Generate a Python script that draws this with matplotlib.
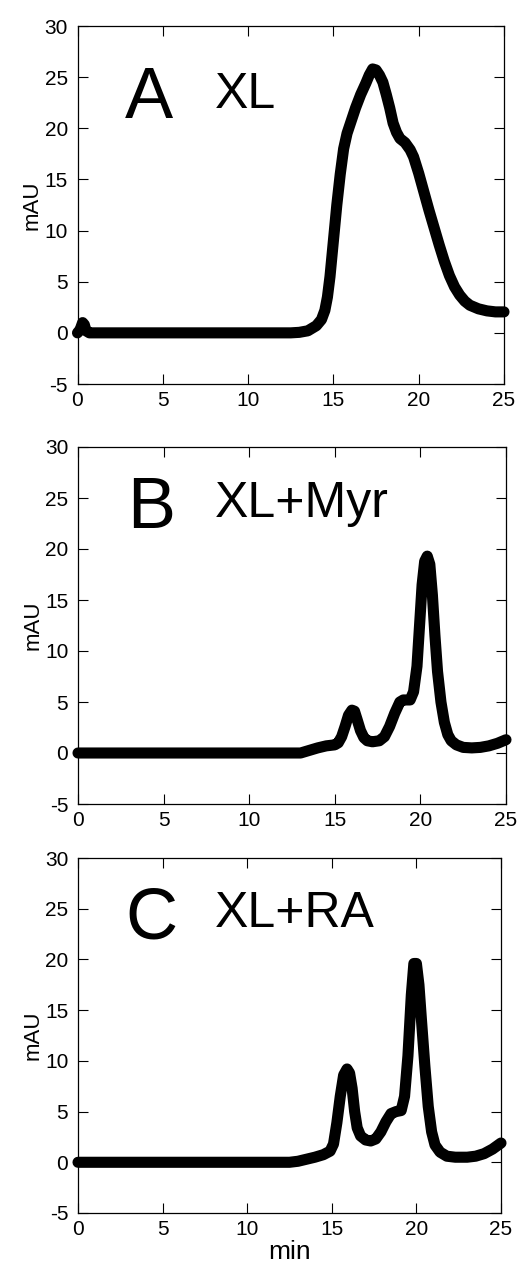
import matplotlib.pyplot as plt

plt.rcParams['font.family'] = ['Liberation Sans', 'DejaVu Sans']
plt.rcParams['axes.unicode_minus'] = False

# Panel A: XL
timeA = [0, 0.15, 0.3, 0.4, 0.5, 0.7, 2, 5, 10, 12.5, 13, 13.5, 14, 14.3, 14.5, 14.65,
         14.8, 15.0, 15.2, 15.4, 15.6, 15.8, 16.0, 16.3, 16.6, 16.9, 17.1, 17.3, 17.5,
         17.7, 17.9, 18.1, 18.3, 18.5, 18.7, 18.9, 19.2, 19.5, 19.7, 20.0, 20.3, 20.6,
         20.9, 21.2, 21.5, 21.8, 22.1, 22.4, 22.7, 23.0, 23.5, 24.0, 24.5, 25.0]
signalA = [0, 0.3, 1.0, 0.8, 0.2, 0, 0, 0, 0, 0, 0.05, 0.2, 0.7, 1.3, 2.2, 3.5,
           5.5, 9.0, 12.5, 15.5, 18.0, 19.5, 20.5, 22.0, 23.3, 24.4, 25.2, 25.8, 25.7,
           25.2, 24.5, 23.3, 22.0, 20.5, 19.6, 19.0, 18.6, 17.9, 17.2, 15.6, 13.8, 12.0,
           10.3, 8.6, 7.0, 5.6, 4.5, 3.7, 3.1, 2.7, 2.35, 2.15, 2.05, 2.05]

# Panel B: XL+Myr
timeB = [0, 5, 10, 13, 13.5, 14, 14.5, 15.0, 15.2, 15.4, 15.6, 15.8, 16.0, 16.15, 16.3,
         16.5, 16.7, 16.9, 17.2, 17.6, 17.9, 18.2, 18.5, 18.8, 19.0, 19.4, 19.6, 19.8,
         19.95, 20.1, 20.25, 20.4, 20.55, 20.7, 20.85, 21.0, 21.2, 21.4, 21.6, 21.8,
         22.1, 22.5, 23.0, 23.5, 24.0, 24.5, 25.0]
signalB = [0, 0, 0, 0, 0.25, 0.5, 0.7, 0.8, 1.0, 1.6, 2.6, 3.7, 4.2, 4.1, 3.3,
           2.2, 1.5, 1.2, 1.1, 1.2, 1.6, 2.6, 3.9, 5.0, 5.2, 5.2, 6.0, 8.5,
           12.5, 16.5, 18.8, 19.3, 18.5, 15.5, 11.5, 8.0, 5.0, 3.0, 1.8, 1.2,
           0.8, 0.55, 0.5, 0.55, 0.7, 0.95, 1.3]

# Panel C: XL+RA
timeC = [0, 5, 10, 12.5, 13, 13.5, 14, 14.5, 14.9, 15.1, 15.3, 15.5, 15.7, 15.9, 16.05,
         16.2, 16.35, 16.5, 16.7, 17.0, 17.3, 17.6, 17.9, 18.2, 18.5, 18.8, 19.1, 19.3,
         19.5, 19.7, 19.85, 20.0, 20.15, 20.3, 20.5, 20.7, 20.9, 21.1, 21.4, 21.8, 22.3,
         23.0, 23.5, 24.0, 24.5, 25.0]
signalC = [0, 0, 0, 0, 0.1, 0.3, 0.5, 0.75, 1.1, 1.8, 3.9, 6.5, 8.6, 9.2, 8.8,
           7.3, 5.0, 3.4, 2.6, 2.2, 2.1, 2.3, 3.0, 4.0, 4.8, 5.0, 5.1, 6.5,
           10.5, 16.5, 19.6, 19.6, 17.5, 14.0, 9.5, 5.5, 3.0, 1.7, 1.0, 0.6, 0.5,
           0.5, 0.6, 0.85, 1.3, 1.9]

panelLetters = ['A', 'B', 'C']
panelNames = ['XL', 'XL+Myr', 'XL+RA']
yTicks = [-5, 0, 5, 10, 15, 20, 25, 30]
xTicks = [0, 5, 10, 15, 20, 25]

figW, figH = 519, 1275
# axes boxes in pixels: left, top, right, bottom
boxes = [(77.5, 26, 504, 384), (78, 447, 506, 804), (78, 858, 501, 1213)]
letterPos = [(2.8, 21.0), (2.86, 22.05), (2.78, 22.1)]
namePos = [(8.06, 22.0), (8.0, 23.1), (8.1, 23.2)]

fig = plt.figure(figsize=(figW / 100, figH / 100), dpi=100)

series = [(timeA, signalA), (timeB, signalB), (timeC, signalC)]
for i, (t, s) in enumerate(series):
    l, tp, r, b = boxes[i]
    ax = fig.add_axes([l / figW, 1 - b / figH, (r - l) / figW, (b - tp) / figH])
    ax.plot(t, s, color='black', lw=8, solid_capstyle='round', solid_joinstyle='round',
            clip_on=False)
    ax.set_xlim(0, 25)
    ax.set_ylim(-5, 30)
    ax.set_xticks(xTicks)
    ax.set_yticks(yTicks)
    ax.tick_params(direction='in', top=True, right=True, length=7, width=0.8,
                   labelsize=15, pad=5)
    ax.tick_params(axis='y', pad=7)
    ax.set_ylabel('mAU', fontsize=16, labelpad=1)
    ax.text(letterPos[i][0], letterPos[i][1], panelLetters[i], fontsize=52,
            ha='left', va='baseline')
    ax.text(namePos[i][0], namePos[i][1], panelNames[i], fontsize=36,
            ha='left', va='baseline')
    for sp in ax.spines.values():
        sp.set_linewidth(0.9)
    if i == 2:
        ax.set_xlabel('min', fontsize=19, labelpad=1)

fig.savefig('out.png', dpi=100)
